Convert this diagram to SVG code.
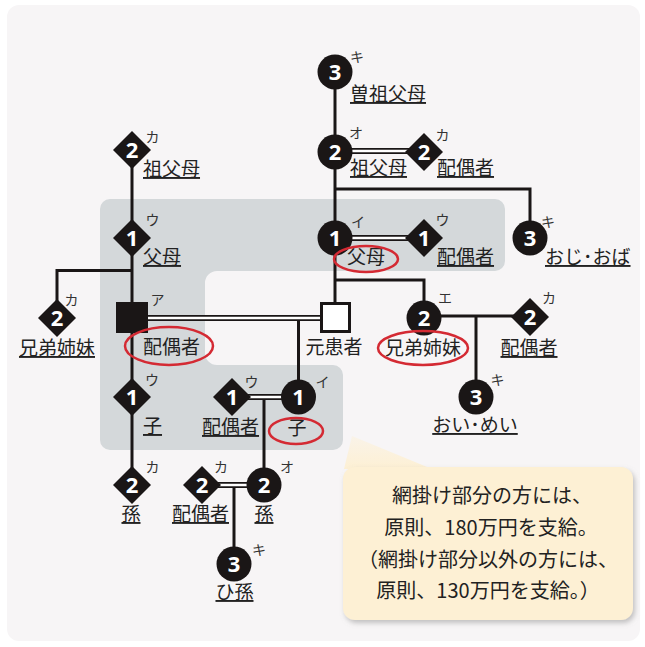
<svg xmlns="http://www.w3.org/2000/svg" width="645" height="647" viewBox="0 0 645 647">
<defs>
<style>
.ln{stroke:#1a1616;stroke-width:3;fill:none}
.dbo{stroke:#1a1616;stroke-width:6;fill:none}
.dbi{stroke:#ffffff;stroke-width:2.4;fill:none}
.nd{fill:#1a1616}
.num{font-family:"Noto Sans","DejaVu Sans",sans-serif;font-weight:700;font-size:22px;fill:#ffffff;text-anchor:middle}
.kn{font-family:"Noto Sans CJK JP",sans-serif;font-size:14px;fill:#333333;text-anchor:middle}
.lb{font-family:"Noto Sans CJK JP",sans-serif;font-size:19px;fill:#222222}
.u{text-decoration:underline}
.m{text-anchor:middle}
.red{fill:none;stroke:#d42a33;stroke-width:2.5}
.co{font-family:"Noto Sans CJK JP",sans-serif;font-size:20px;fill:#222222;text-anchor:middle}
</style>
<filter id="sh" x="-10%" y="-10%" width="130%" height="130%">
<feDropShadow dx="2" dy="3" stdDeviation="2.5" flood-color="#8a8a8a" flood-opacity="0.5"/>
</filter>
<linearGradient id="pg" x1="0" y1="0" x2="0" y2="1">
<stop offset="0" stop-color="#fdf0d4" stop-opacity="0.4"/>
<stop offset="1" stop-color="#fdf0d4" stop-opacity="1"/>
</linearGradient>
</defs>
<rect x="0" y="0" width="645" height="647" fill="#ffffff"/>
<rect x="7" y="5" width="633" height="636" rx="12" fill="#f7f5f6"/>
<g id="shade">
<path d="M110,199 H495 A10,10 0 0 1 505,209 V261 A10,10 0 0 1 495,271 H217 A12,12 0 0 0 205,283 V353 A12,12 0 0 0 217,365 H333 A10,10 0 0 1 343,375 V440 A10,10 0 0 1 333,450 H110 A10,10 0 0 1 100,440 V209 A10,10 0 0 1 110,199 Z" fill="#d4d8da"/>
</g>
<g id="connectors">
<path class="ln" d="M132,150 V485"/>
<path class="ln" d="M132,270.5 H57 V318"/>
<path class="ln" d="M335,72 V304"/>
<path class="ln" d="M335,189 H530 V238"/>
<path class="ln" d="M335,280 H424 V318"/>
<path class="ln" d="M424,316 H530"/>
<path class="ln" d="M476,316 V397"/>
<path class="ln" d="M298.5,321 V397"/>
<path class="ln" d="M264,400 V485"/>
<path class="ln" d="M234,488 V564"/>
<path class="dbo" d="M335,151 H424"/><path class="dbi" d="M335,151 H424"/>
<path class="dbo" d="M335,238 H424"/><path class="dbi" d="M335,238 H424"/>
<path class="dbo" d="M132,318 H335"/><path class="dbi" d="M148,318 H321"/>
<path class="dbo" d="M232,397 H298"/><path class="dbi" d="M232,397 H298"/>
<path class="dbo" d="M202,485 H264"/><path class="dbi" d="M202,485 H264"/>
</g>
<g id="n-sosofubo">
<circle class="nd" cx="335" cy="72" r="17.5"/><text class="num" x="335" y="80">3</text>
<text class="kn" x="357" y="62">キ</text>
<text class="lb u" x="350" y="101">曽祖父母</text>
</g>
<g id="n-sofubo-l">
<polygon class="nd" points="132,131 151,150 132,169 113,150"/><text class="num" x="132" y="158">2</text>
<text class="kn" x="152.5" y="142">カ</text>
<text class="lb u" x="143" y="176">祖父母</text>
</g>
<g id="n-fubo-l">
<polygon class="nd" points="132,219 151,238 132,257 113,238"/><text class="num" x="132" y="246">1</text>
<text class="kn" x="152.5" y="225">ウ</text>
<text class="lb u" x="143" y="264">父母</text>
</g>
<g id="n-kyodai-l">
<polygon class="nd" points="57,299 76,318 57,337 38,318"/><text class="num" x="57" y="326">2</text>
<text class="kn" x="71.5" y="305">カ</text>
<text class="lb u m" x="57" y="355">兄弟姉妹</text>
</g>
<g id="n-haigusha">
<rect class="nd" x="116" y="302" width="32" height="31"/>
<text class="kn" x="157.5" y="305">ア</text>
<text class="lb" x="143" y="354">配偶者</text>
<ellipse class="red" cx="169" cy="346" rx="44" ry="19"/>
</g>
<g id="n-ko-l">
<polygon class="nd" points="132,378 151,397 132,416 113,397"/><text class="num" x="132" y="405">1</text>
<text class="kn" x="152" y="385">ウ</text>
<text class="lb u" x="143" y="433">子</text>
</g>
<g id="n-mago-l">
<polygon class="nd" points="132,466 151,485 132,504 113,485"/><text class="num" x="132" y="493">2</text>
<text class="kn" x="152.5" y="472">カ</text>
<text class="lb u m" x="131" y="521">孫</text>
</g>
<g id="n-sofubo-c">
<circle class="nd" cx="335" cy="152" r="17.5"/><text class="num" x="335" y="160">2</text>
<text class="kn" x="356" y="138">オ</text>
<text class="lb u" x="350" y="175">祖父母</text>
</g>
<g id="n-sofubo-sp">
<polygon class="nd" points="424,133 443,152 424,171 405,152"/><text class="num" x="424" y="160">2</text>
<text class="kn" x="442.5" y="140">カ</text>
<text class="lb u" x="437" y="175">配偶者</text>
</g>
<g id="n-oji">
<circle class="nd" cx="530" cy="238" r="17.5"/><text class="num" x="530" y="246">3</text>
<text class="kn" x="548" y="227">キ</text>
<text class="lb u" x="545" y="264">おじ･おば</text>
</g>
<g id="n-fubo-c">
<circle class="nd" cx="335" cy="238" r="17.5"/><text class="num" x="335" y="246">1</text>
<text class="kn" x="358" y="227">イ</text>
<text class="lb" x="347" y="264">父母</text>
<ellipse class="red" cx="366" cy="259" rx="32" ry="13"/>
</g>
<g id="n-fubo-sp">
<polygon class="nd" points="424,219 443,238 424,257 405,238"/><text class="num" x="424" y="246">1</text>
<text class="kn" x="442.5" y="225">ウ</text>
<text class="lb u" x="437" y="264">配偶者</text>
</g>
<g id="n-patient">
<rect x="321.5" y="303.5" width="28" height="28" fill="#ffffff" stroke="#1a1616" stroke-width="3"/>
<text class="lb m" x="334" y="354">元患者</text>
</g>
<g id="n-kyodai-c">
<circle class="nd" cx="424" cy="318" r="17.5"/><text class="num" x="424" y="326">2</text>
<text class="kn" x="445" y="303">エ</text>
<text class="lb m" x="423" y="355">兄弟姉妹</text>
<ellipse class="red" cx="423" cy="348" rx="45" ry="17"/>
</g>
<g id="n-kyodai-sp">
<polygon class="nd" points="530,298 549,317 530,336 511,317"/><text class="num" x="530" y="325">2</text>
<text class="kn" x="549" y="303">カ</text>
<text class="lb u m" x="529" y="355">配偶者</text>
</g>
<g id="n-oimei">
<circle class="nd" cx="476" cy="397" r="17.5"/><text class="num" x="476" y="405">3</text>
<text class="kn" x="497.5" y="385">キ</text>
<text class="lb u m" x="475" y="432">おい･めい</text>
</g>
<g id="n-ko-c">
<circle class="nd" cx="298.5" cy="397" r="17.5"/><text class="num" x="298.5" y="405">1</text>
<text class="kn" x="322.5" y="387">イ</text>
<text class="lb m" x="297" y="435">子</text>
<ellipse class="red" cx="296" cy="431" rx="27" ry="13"/>
</g>
<g id="n-ko-sp">
<polygon class="nd" points="232,378 251,397 232,416 213,397"/><text class="num" x="232" y="405">1</text>
<text class="kn" x="251.5" y="387">ウ</text>
<text class="lb u" x="202" y="434">配偶者</text>
</g>
<g id="n-mago-sp">
<polygon class="nd" points="202,466 221,485 202,504 183,485"/><text class="num" x="202" y="493">2</text>
<text class="kn" x="221" y="472">カ</text>
<text class="lb u m" x="200.5" y="521">配偶者</text>
</g>
<g id="n-mago-c">
<circle class="nd" cx="264" cy="485" r="17.5"/><text class="num" x="264" y="493">2</text>
<text class="kn" x="287" y="472">オ</text>
<text class="lb u m" x="264" y="521">孫</text>
</g>
<g id="n-himago">
<circle class="nd" cx="234" cy="564" r="17.5"/><text class="num" x="234" y="572">3</text>
<text class="kn" x="259" y="555">キ</text>
<text class="lb u m" x="234.5" y="599">ひ孫</text>
</g>
<g id="callout">
<polygon points="352,436 432,469 344,469" fill="url(#pg)"/>
<rect x="343" y="467" width="290" height="153" rx="12" fill="#fdf0d4" filter="url(#sh)"/>
<text class="co" x="492" y="503">網掛け部分の方には、</text>
<text class="co" x="491" y="535">原則、180万円を支給。</text>
<text class="co" x="488" y="567">（網掛け部分以外の方には、</text>
<text class="co" x="488" y="598">原則、130万円を支給。）</text>
</g>
</svg>
